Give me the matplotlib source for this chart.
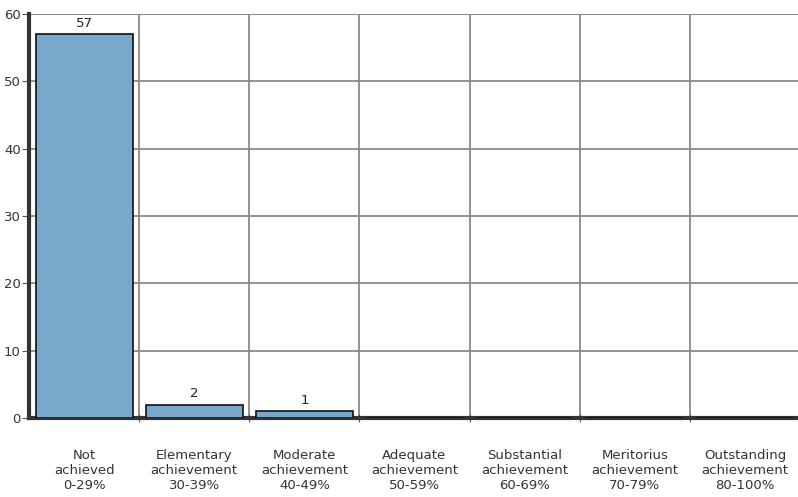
import matplotlib
matplotlib.use("Agg")
import matplotlib.pyplot as plt
import numpy as np

categories = [
    "Not\nachieved\n0-29%",
    "Elementary\nachievement\n30-39%",
    "Moderate\nachievement\n40-49%",
    "Adequate\nachievement\n50-59%",
    "Substantial\nachievement\n60-69%",
    "Meritorius\nachievement\n70-79%",
    "Outstanding\nachievement\n80-100%",
]
counts = [57, 2, 1, 0, 0, 0, 0]
yticks = [0, 10, 20, 30, 40, 50, 60]

fig = plt.figure(figsize=(7.98, 4.97), dpi=100)
ax = fig.add_axes([29 / 798, 79 / 497, 771 / 798, 404 / 497])

x = np.arange(len(categories)) + 0.5
bars = ax.bar(x, counts, width=0.88, color="#78a9cd", edgecolor="#111111",
              linewidth=1.2, zorder=3)
for xi, c in zip(x, counts):
    if c > 0:
        ax.text(xi, c + 0.6, str(c), ha="center", va="bottom",
                fontsize=9.5, color="#222222")

ax.set_xlim(0, 7)
ax.set_ylim(0, 60)
ax.set_yticks(yticks)
ax.set_xticks(np.arange(1, 7))
ax.set_xticklabels([])
ax.set_xticks(x, minor=True)
ax.set_xticklabels(categories, minor=True, fontsize=9.5, color="#333333",
                   linespacing=1.2)
ax.tick_params(axis="x", which="minor", length=0, pad=22)
ax.tick_params(axis="x", which="major", length=6, direction="inout",
               color="#555555")
ax.tick_params(axis="y", labelsize=9.5, labelcolor="#333333", length=5,
               color="#555555", pad=1)

ax.grid(True, which="major", color="#8a8a8a", linewidth=1.3, zorder=0)
ax.axhline(60, color="#8a8a8a", linewidth=1.5, zorder=0)

for side in ["top", "right"]:
    ax.spines[side].set_visible(False)
ax.spines["left"].set_color("#333333")
ax.spines["left"].set_linewidth(3)
ax.spines["bottom"].set_color("#333333")
ax.spines["bottom"].set_linewidth(3)
ax.set_axisbelow(True)

fig.savefig("out.png", dpi=100)
